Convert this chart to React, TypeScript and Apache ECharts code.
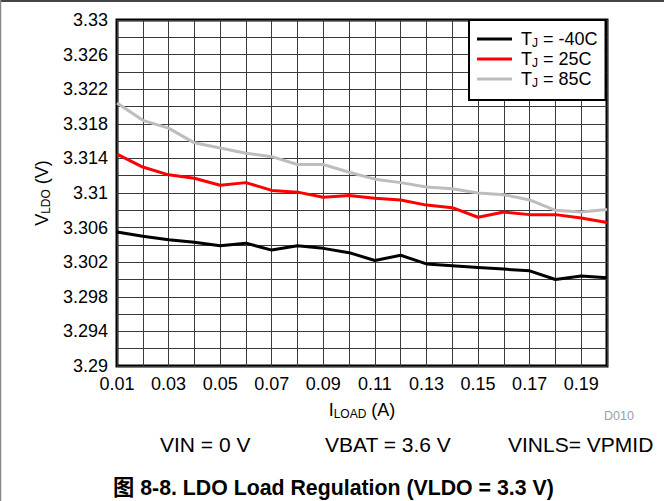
import React, { useEffect, useRef } from 'react';
import * as echarts from 'echarts';

// Load current (A)
const iLoadA = [0.01, 0.02, 0.03, 0.04, 0.05, 0.06, 0.07, 0.08, 0.09, 0.10, 0.11, 0.12, 0.13, 0.14, 0.15, 0.16, 0.17, 0.18, 0.19, 0.20];
// VLDO (V) per junction temperature
const vTjM40 = [3.3055, 3.3050, 3.3046, 3.3043, 3.3039, 3.3042, 3.3034, 3.3039, 3.3036, 3.3031, 3.3022, 3.3028, 3.3018, 3.3016, 3.3014, 3.3012, 3.3010, 3.3000, 3.3004, 3.3002];
const vTj25 = [3.3145, 3.3130, 3.3121, 3.3117, 3.3109, 3.3112, 3.3103, 3.3101, 3.3095, 3.3097, 3.3094, 3.3092, 3.3086, 3.3083, 3.3072, 3.3078, 3.3075, 3.3075, 3.3071, 3.3066];
const vTj85 = [3.3204, 3.3184, 3.3175, 3.3158, 3.3152, 3.3146, 3.3142, 3.3133, 3.3133, 3.3124, 3.3116, 3.3112, 3.3107, 3.3105, 3.3100, 3.3098, 3.3092, 3.3080, 3.3078, 3.3081];

const seriesNames = ['TJ = -40C', 'TJ = 25C', 'TJ = 85C'];
const legendLabels = ['{a|T}{s|J}{a| = -40C}', '{a|T}{s|J}{a| = 25C}', '{a|T}{s|J}{a| = 85C}'];
const seriesColors = ['#000000', '#ff0000', '#bdbdbd'];

const FONT = '"Liberation Sans", Arial, Helvetica, "Noto Sans CJK SC", sans-serif';

const toPts = (vals: number[]) => vals.map((v, i) => [iLoadA[i] * 1000, v * 1000]);

export default function App() {
  const ref = useRef<HTMLDivElement>(null);
  useEffect(() => {
    if (!ref.current) return;
    const chart = echarts.init(ref.current, undefined, { renderer: 'svg' });
    const subRich = {
      a: { fontSize: 18, fontFamily: FONT, color: '#000', lineHeight: 20 },
      s: { fontSize: 12, fontFamily: FONT, color: '#000', lineHeight: 11, verticalAlign: 'bottom' as const },
    };
    const data = [vTjM40, vTj25, vTj85];
    chart.setOption({
      animation: false,
      backgroundColor: '#fff',
      textStyle: { fontFamily: FONT },
      grid: {
        left: 117, top: 20, width: 490, height: 346,
        show: true, borderColor: '#000', borderWidth: 3, backgroundColor: 'transparent',
      },
      xAxis: {
        type: 'value', min: 10, max: 200, interval: 10,
        axisLine: { show: false }, axisTick: { show: false },
        splitLine: { show: true, lineStyle: { color: '#3a3a3a', width: 1 } },
        axisLabel: {
          margin: 9, fontSize: 18, color: '#000', fontFamily: FONT,
          formatter: (v: number) => {
            const r = Math.round(v);
            return (r - 10) % 20 === 0 && r < 200 ? (r / 1000).toFixed(2) : '';
          },
        },
        name: '{a|I}{s|LOAD}{a| (A)}',
        nameLocation: 'middle', nameGap: 34,
        nameTextStyle: { rich: subRich },
      },
      yAxis: {
        type: 'value', min: 3290, max: 3330, interval: 2,
        axisLine: { show: false }, axisTick: { show: false },
        splitLine: { show: true, lineStyle: { color: '#3a3a3a', width: 1 } },
        axisLabel: {
          margin: 9, fontSize: 18, color: '#000', fontFamily: FONT,
          formatter: (v: number) => {
            const r = Math.round(v);
            return (r - 3290) % 4 === 0 ? String(r / 1000) : '';
          },
        },
        name: '{a|V}{s|LDO}{a| (V)}',
        nameLocation: 'middle', nameGap: 64, nameRotate: 90,
        nameTextStyle: { rich: subRich },
      },
      legend: {
        show: true, orient: 'vertical', left: 469, top: 20,
        data: seriesNames,
        icon: 'rect', itemWidth: 35, itemHeight: 3, itemGap: 1,
        padding: [10, 8, 11, 8],
        borderColor: '#000', borderWidth: 2, backgroundColor: '#fff',
        formatter: (name: string) => legendLabels[seriesNames.indexOf(name)],
        textStyle: { rich: subRich, padding: [0, 0, 0, 4] },
        z: 10,
      },
      series: data.map((vals, k) => ({
        name: seriesNames[k],
        type: 'line',
        data: toPts(vals),
        symbol: 'none',
        lineStyle: { color: seriesColors[k], width: 3 },
        itemStyle: { color: seriesColors[k] },
        z: 3 + (2 - k),
      })),
      graphic: [
        { type: 'line', shape: { x1: 0, y1: 1, x2: 664, y2: 1 }, style: { stroke: '#444', lineWidth: 2 } },
        { type: 'line', shape: { x1: 0.5, y1: 0, x2: 0.5, y2: 501 }, style: { stroke: '#888', lineWidth: 1.5 } },
        { type: 'text', left: 604, top: 410, style: { text: 'D010', fontSize: 12.5, fill: '#a0a0a0', fontFamily: FONT } },
        { type: 'text', left: 160, top: 434, style: { text: 'VIN = 0 V', fontSize: 21, fill: '#000', fontFamily: FONT } },
        { type: 'text', left: 325, top: 434, style: { text: 'VBAT = 3.6 V', fontSize: 21, fill: '#000', fontFamily: FONT } },
        { type: 'text', left: 508, top: 434, style: { text: 'VINLS= VPMID', fontSize: 21, fill: '#000', fontFamily: FONT } },
        { type: 'text', left: 113, top: 477, style: { text: '图 8-8. LDO Load Regulation (VLDO = 3.3 V)', fontSize: 21.3, fontWeight: 'bold', fill: '#000', fontFamily: FONT } },
      ],
    });
    return () => chart.dispose();
  }, []);
  return <div ref={ref} style={{ position: 'fixed', left: 0, top: 0, width: 664, height: 501 }} />;
}
